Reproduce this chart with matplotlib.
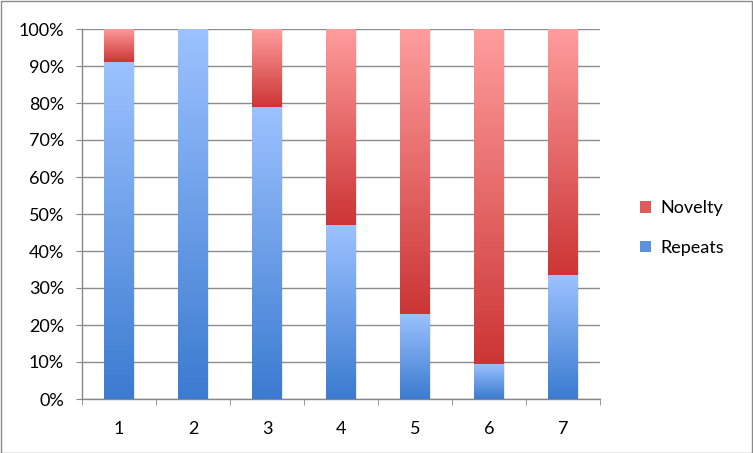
import numpy as np
import matplotlib
matplotlib.use('Agg')
import matplotlib.pyplot as plt
from matplotlib.colors import LinearSegmentedColormap
from matplotlib.patches import Rectangle

plt.rcParams['font.family'] = ['Lato', 'DejaVu Sans']

# data
categories = ['1', '2', '3', '4', '5', '6', '7']
repeats = [0.91, 1.00, 0.79, 0.47, 0.23, 0.095, 0.335]
novelty = [1 - r for r in repeats]

blue_cm = LinearSegmentedColormap.from_list('blue', ['#3b7bd0', '#9cc2ff'])
red_cm = LinearSegmentedColormap.from_list('red', ['#cc3535', '#ff9d9d'])

fig = plt.figure(figsize=(7.53, 4.53), dpi=100)
ax = fig.add_axes([82 / 753, 54 / 453, 518 / 753, 370 / 453])

x = np.arange(len(categories))
w = 0.4
grad = np.linspace(0, 1, 256).reshape(-1, 1)

rep_bars = ax.bar(x, repeats, w, color='none', edgecolor='none', zorder=2)
nov_bars = ax.bar(x, novelty, w, bottom=repeats, color='none', edgecolor='none', zorder=2)


def fill_gradient(bars, cmap):
    for b in bars:
        if b.get_height() <= 0:
            continue
        x0, y0 = b.get_x(), b.get_y()
        x1, y1 = x0 + b.get_width(), y0 + b.get_height()
        # soft shadow
        sh = Rectangle((x0 + 0.02, y0), b.get_width(), b.get_height(),
                       facecolor='#000000', alpha=0.08, zorder=2, lw=0)
        ax.add_patch(sh)
        im = ax.imshow(grad, extent=[x0, x1, y0, y1], origin='lower',
                       cmap=cmap, aspect='auto', zorder=3, interpolation='bilinear')
        im.set_clip_path(b)


fill_gradient(rep_bars, blue_cm)
fill_gradient(nov_bars, red_cm)

ax.set_xlim(-0.5, len(categories) - 0.5)
ax.set_ylim(0, 1)
ax.set_yticks(np.arange(0, 1.01, 0.1))
ax.set_yticklabels([f'{int(round(v * 100))}%' for v in np.arange(0, 1.01, 0.1)])
ax.set_xticks(x)
ax.set_xticklabels(categories)
ax.set_xticks(np.arange(-0.5, len(categories), 1), minor=True)
ax.tick_params(axis='x', which='major', length=0, pad=16, labelsize=13)
ax.tick_params(axis='x', which='minor', length=4, color='#888888', direction='out')
ax.tick_params(axis='y', length=4, color='#888888', direction='out', labelsize=13, pad=9)

ax.yaxis.grid(True, color='#8c8c8c', linewidth=1)
ax.set_axisbelow(True)
for s in ['top', 'right']:
    ax.spines[s].set_visible(False)
for s in ['left', 'bottom']:
    ax.spines[s].set_color('#888888')
    ax.spines[s].set_linewidth(1)

# legend
h_nov = Rectangle((0, 0), 1, 1, facecolor='#e05c5c', edgecolor='none')
h_rep = Rectangle((0, 0), 1, 1, facecolor='#5a92e0', edgecolor='none')
fig.legend([h_nov, h_rep], ['Novelty', 'Repeats'], loc='center left',
           bbox_to_anchor=(624 / 753, 1 - 228 / 453), frameon=False,
           fontsize=13, handlelength=0.6, handleheight=0.6, labelspacing=1.3,
           handletextpad=0.5)

# outer frame
fig.patches.append(Rectangle((0.5 / 753, 0.5 / 453), 1 - 1.5 / 753, 1 - 1.5 / 453,
                             transform=fig.transFigure, fill=False,
                             edgecolor='#8a8a8a', linewidth=1))

fig.savefig('out.png', dpi=100)
